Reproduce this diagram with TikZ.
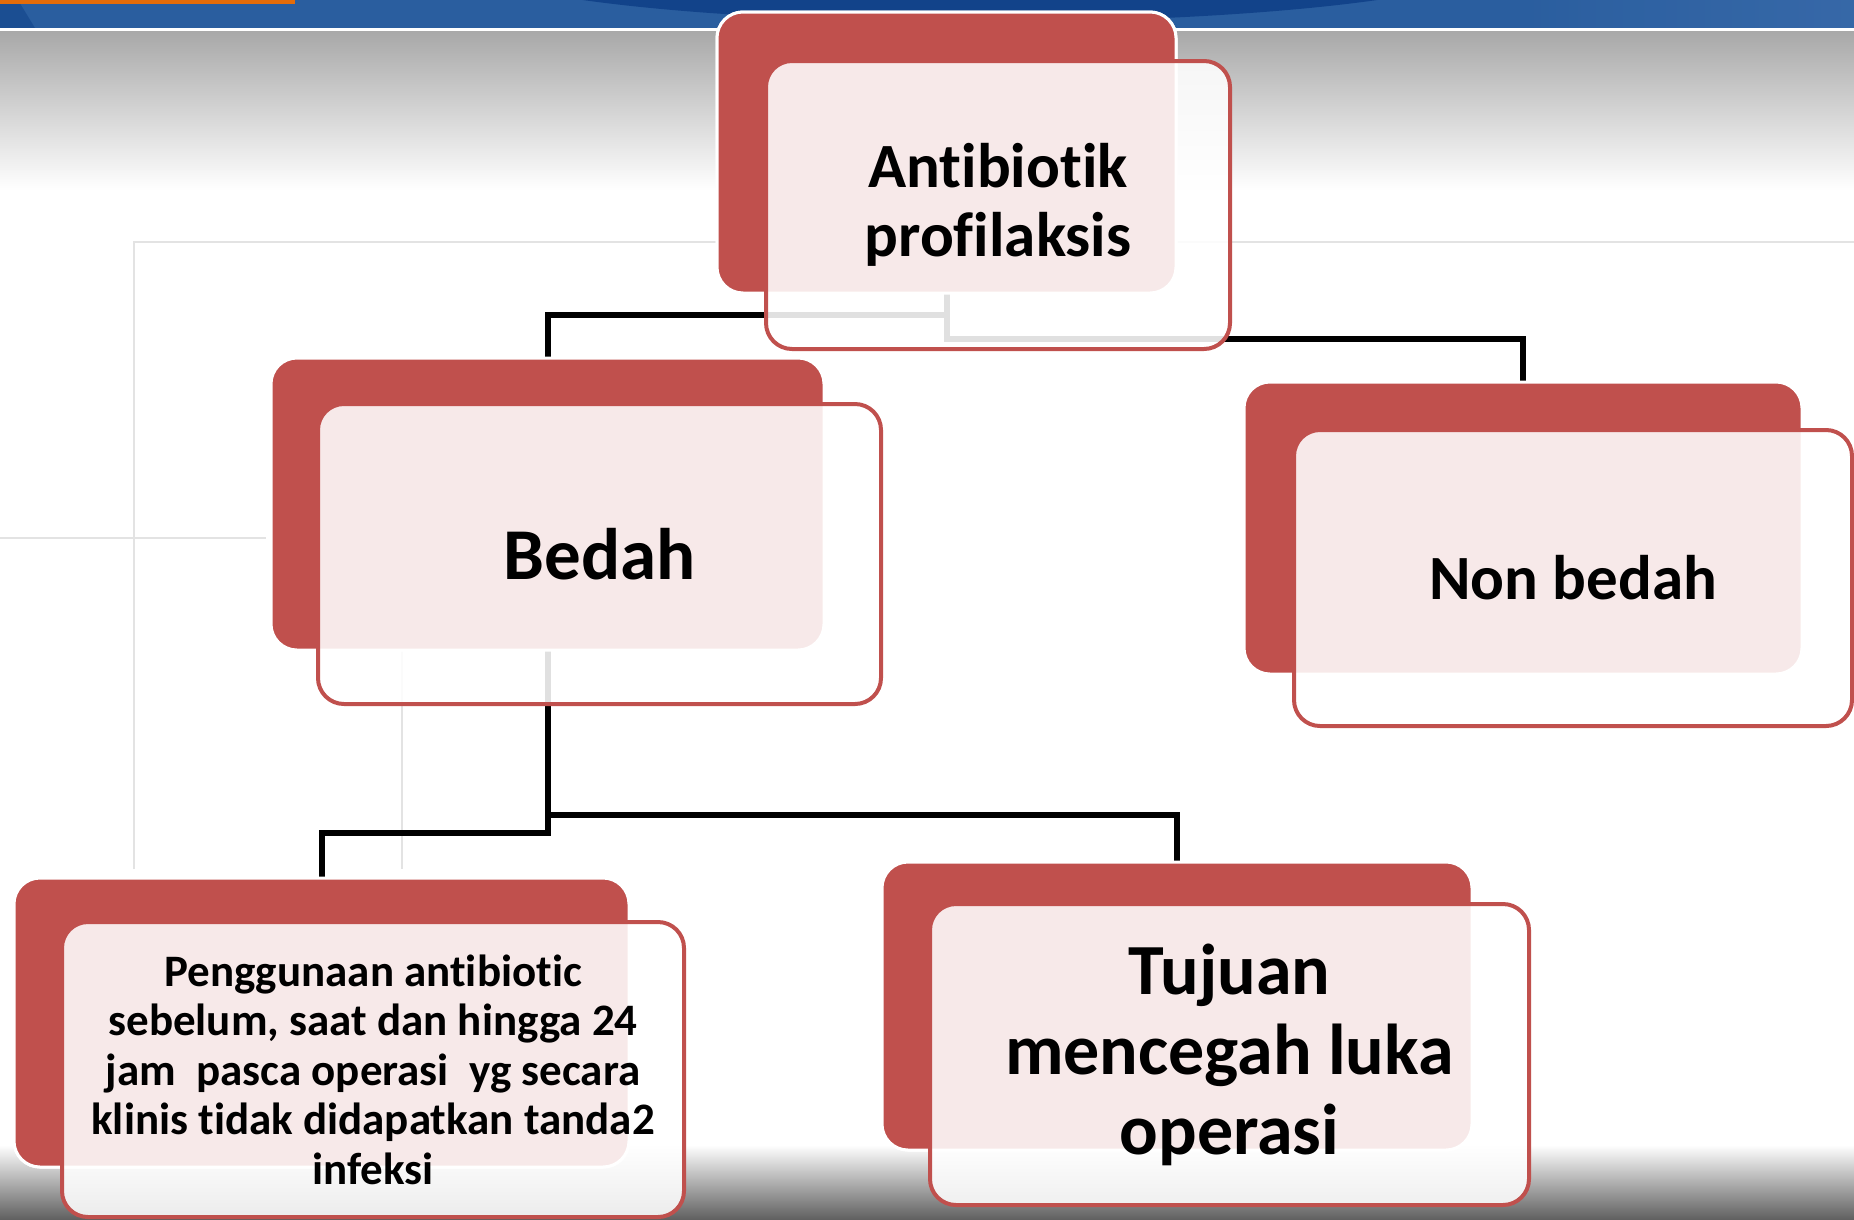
\documentclass[tikz,border=0pt]{standalone}
\usepackage{fontspec}
\setmainfont[Ligatures={NoCommon}]{Carlito}
\definecolor{accred}{HTML}{C0504D}
\definecolor{barbase}{HTML}{2A5E9F}
\definecolor{bardark}{HTML}{0E3F87}
\definecolor{barlight}{HTML}{3A6BAA}
\definecolor{barorange}{HTML}{E46C0A}
\definecolor{bggray}{HTML}{A8A8A8}
\definecolor{gridgray}{HTML}{E3E3E3}
\tikzset{
  backbox/.style={rounded corners=26pt, fill=accred, draw=white, line width=3pt, minimum width=#1, inner sep=0pt},
  frontbox/.style={rounded corners=26pt, fill=white, fill opacity=0.88, text opacity=1, draw=accred, draw opacity=1, line width=4pt, inner sep=0pt, align=center, font=\bfseries},
  conn/.style={draw=black, line width=6pt, line cap=rect},
  gridline/.style={draw=gridgray, line width=2.5pt}
}
\begin{document}
\begin{tikzpicture}[x=1pt,y=-1pt]
\useasboundingbox (0,0) rectangle (1854,1219);
% background
\fill[white] (0,0) rectangle (1854,1219);
\shade[top color=bggray, bottom color=white] (0,31) rectangle (1854,190);
\shade[top color=white, bottom color=black!62] (0,1145) rectangle (1854,1219);
% top bar
\fill[barbase] (0,0) rectangle (1854,28);
\begin{scope}
\clip (0,0) rectangle (1854,28);
\fill[bardark, opacity=0.85] (980,-40) ellipse (520 and 62);
\shade[left color=barbase, right color=barlight, opacity=0.8] (1500,0) rectangle (1854,28);
\fill[bardark, opacity=0.5] (0,0) -- (18,0) -- (35,28) -- (0,28) -- cycle;
\end{scope}
\fill[barorange] (0,0) rectangle (295,4);
\draw[white, line width=3pt] (0,29.5) -- (1854,29.5);
% faint background lines
\draw[gridline] (134,869) -- (134,242) -- (1854,242);
\draw[gridline] (0,538) -- (266,538);
\draw[gridline] (402,650) -- (402,869);
% back boxes
\node[backbox=459pt, minimum height=281pt] (topback) at (946.5,152.5) {};
\node[backbox=553pt, minimum height=292pt] (bedahback) at (547.5,504) {};
\node[backbox=558pt, minimum height=292pt] (nonback) at (1523,528) {};
\node[backbox=615pt, minimum height=289pt] (pengback) at (321.5,1022.5) {};
\node[backbox=590pt, minimum height=288pt] (tujback) at (1177,1006) {};
% connectors
\draw[conn] (topback.south) -- ++(0,20) -| (bedahback.north);
\draw[conn] (topback.south) -- ++(0,44) -| (nonback.north);
\draw[conn] (bedahback.south) -- ++(0,163) -| (tujback.north);
\draw[conn] (bedahback.south) -- ++(0,181) -| (pengback.north);
% redraw back boxes over connector ends
\node[backbox=459pt, minimum height=281pt] at (946.5,152.5) {};
\node[backbox=553pt, minimum height=292pt] at (547.5,504) {};
\node[backbox=558pt, minimum height=292pt] at (1523,528) {};
\node[backbox=615pt, minimum height=289pt] at (321.5,1022.5) {};
\node[backbox=590pt, minimum height=288pt] at (1177,1006) {};
% front boxes
\node[frontbox, minimum width=464pt, minimum height=288pt, font=\bfseries\fontsize{63}{69}\selectfont] (topfront) at (998,205) {Antibiotik\\profilaksis};
\node[frontbox, minimum width=563pt, minimum height=300pt, font=\bfseries\fontsize{73}{80}\selectfont] (bedahfront) at (599.5,554) {Bedah};
\node[frontbox, minimum width=558pt, minimum height=296pt, font=\bfseries\fontsize{63}{69}\selectfont] (nonfront) at (1573,578) {Non bedah};
\node[frontbox, minimum width=622pt, minimum height=295pt, font=\bfseries\fontsize{45}{49.5}\selectfont] (pengfront) at (373,1069.5) {Penggunaan antibiotic\\sebelum, saat dan hingga 24\\jam\ \ pasca operasi\ \ yg secara\\klinis tidak didapatkan tanda2\\infeksi};
\node[frontbox, minimum width=599pt, minimum height=301pt, font=\bfseries\fontsize{72}{80}\selectfont] (tujfront) at (1229.5,1054.5) {Tujuan\\mencegah luka\\operasi};
\end{tikzpicture}
\end{document}
